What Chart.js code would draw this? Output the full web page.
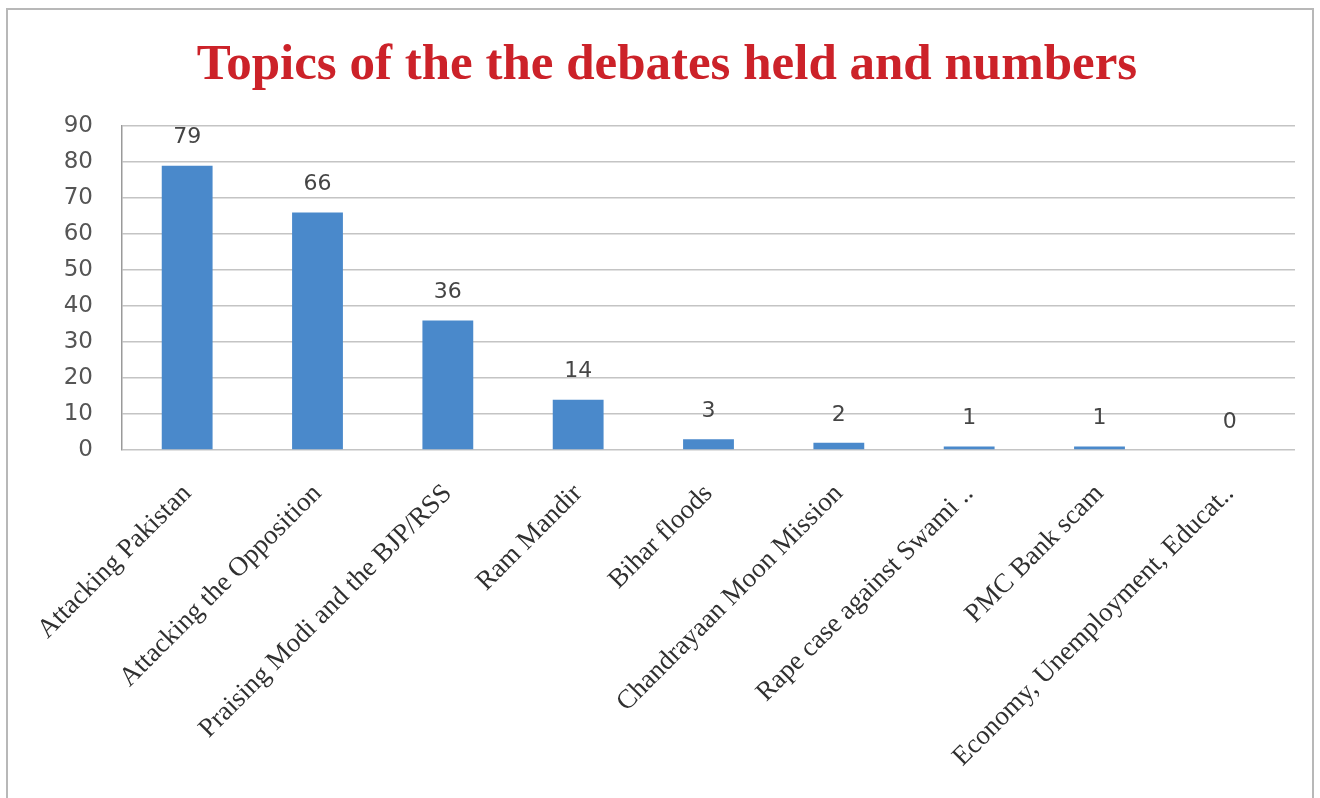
<!DOCTYPE html>
<html>
<head>
<meta charset="utf-8">
<script src="https://cdn.jsdelivr.net/npm/chart.js@4.4.0/dist/chart.umd.min.js"></script>
<style>
    html, body { margin: 0; padding: 0; background: #fff; }
    #wrap { position: relative; width: 1320px; height: 798px; }
    #frame { position: absolute; left: 6px; top: 8px; width: 1304px; height: 800px; border: 2px solid #b8b8b8; border-bottom: none; }
    #topicsChart { position: absolute; left: 0; top: 0; }
</style>
</head>
<body>
<div id="wrap">
    <div id="frame"></div>
    <canvas id="topicsChart" width="1320" height="798"></canvas>
</div>
<script>
const topics = [
    'Attacking Pakistan',
    'Attacking the Opposition',
    'Praising Modi and the BJP/RSS',
    'Ram Mandir',
    'Bihar floods',
    'Chandrayaan Moon Mission',
    'Rape case against Swami ..',
    'PMC Bank scam',
    'Economy, Unemployment, Educat..'
];
const debateCounts = [79, 66, 36, 14, 3, 2, 1, 1, 0];
const yTicks = [0, 10, 20, 30, 40, 50, 60, 70, 80, 90];

/* draws the number above each bar, using the bar element positions */
const valueLabels = {
    id: 'valueLabels',
    afterDatasetsDraw(chart) {
        const ctx = chart.ctx;
        const meta = chart.getDatasetMeta(0);
        ctx.save();
        ctx.font = '22px "DejaVu Sans", sans-serif';
        ctx.fillStyle = '#454545';
        ctx.textAlign = 'center';
        ctx.textBaseline = 'bottom';
        meta.data.forEach((bar, i) => {
            ctx.fillText(String(debateCounts[i]), bar.x, bar.y - 17);
        });
        ctx.restore();
    }
};

Chart.defaults.animation = false;

new Chart(document.getElementById('topicsChart'), {
    type: 'bar',
    data: {
        labels: topics,
        datasets: [{
            data: debateCounts,
            backgroundColor: '#4a89cb',
            borderWidth: 0,
            categoryPercentage: 1,
            barPercentage: 0.39
        }]
    },
    options: {
        responsive: false,
        layout: { padding: { left: 39, right: 25, top: 0, bottom: 0 } },
        plugins: {
            legend: { display: false },
            tooltip: { enabled: false },
            title: {
                display: true,
                text: 'Topics of the the debates held and numbers',
                color: '#cc2229',
                font: { family: '"Liberation Serif", "Times New Roman", serif', size: 51, weight: 'bold' },
                padding: { top: 35, bottom: 30 }
            }
        },
        scales: {
            x: {
                grid: { display: false, drawTicks: false },
                border: { display: false },
                afterFit: (axis) => { axis.height = 348; },
                ticks: {
                    autoSkip: false,
                    minRotation: 45,
                    maxRotation: 45,
                    padding: 28,
                    color: '#303030',
                    font: { family: '"Liberation Serif", "Times New Roman", serif', size: 27 }
                }
            },
            y: {
                min: 0,
                max: 90,
                afterBuildTicks: (axis) => {
                    axis.ticks = yTicks.map(v => ({ value: v }));
                },
                afterFit: (axis) => { axis.width = 83; },
                grid: { color: '#c4c4c4', lineWidth: 1.5, drawTicks: false },
                border: { display: true, color: '#9a9a9a', width: 1.5 },
                ticks: {
                    padding: 29,
                    color: '#555555',
                    font: { family: '"DejaVu Sans", sans-serif', size: 23 }
                }
            }
        }
    },
    plugins: [valueLabels]
});
</script>
</body>
</html>
